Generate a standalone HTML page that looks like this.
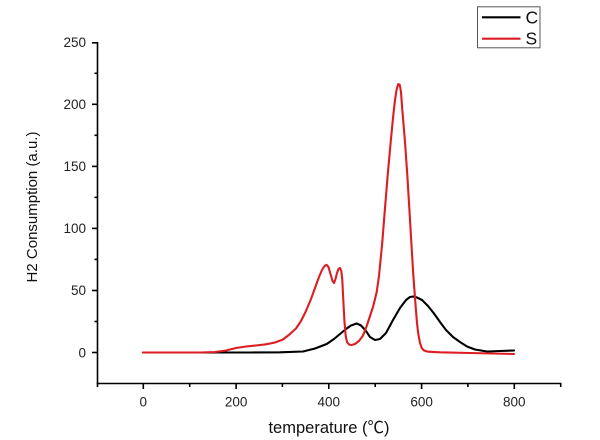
<!DOCTYPE html>
<html>
<head>
<meta charset="utf-8">
<style>
  html, body { margin: 0; padding: 0; background: #ffffff; }
  svg { display: block; }
  text { font-family: "Liberation Sans", "Noto Sans CJK SC", "DejaVu Sans", sans-serif; fill: #222; }
</style>
</head>
<body>
<svg width="600" height="440" viewBox="0 0 600 440" xmlns="http://www.w3.org/2000/svg">
  <rect x="0" y="0" width="600" height="440" fill="#ffffff"/>

  <!-- Axes -->
  <g stroke="#000" stroke-width="1.6" fill="none">
    <line x1="97.5" y1="42" x2="97.5" y2="384"/>
    <line x1="96.7" y1="383.5" x2="561.5" y2="383.5"/>
    <!-- y major ticks -->
    <line x1="92" y1="352.5" x2="97.5" y2="352.5"/>
    <line x1="92" y1="290.5" x2="97.5" y2="290.5"/>
    <line x1="92" y1="228.4" x2="97.5" y2="228.4"/>
    <line x1="92" y1="166.4" x2="97.5" y2="166.4"/>
    <line x1="92" y1="104.3" x2="97.5" y2="104.3"/>
    <line x1="92" y1="42.8" x2="97.5" y2="42.8"/>
    <!-- y minor ticks -->
    <line x1="94.5" y1="321.5" x2="97.5" y2="321.5"/>
    <line x1="94.5" y1="259.4" x2="97.5" y2="259.4"/>
    <line x1="94.5" y1="197.4" x2="97.5" y2="197.4"/>
    <line x1="94.5" y1="135.3" x2="97.5" y2="135.3"/>
    <line x1="94.5" y1="73.3" x2="97.5" y2="73.3"/>
    <!-- x major ticks -->
    <line x1="143.3" y1="383.5" x2="143.3" y2="389"/>
    <line x1="236.1" y1="383.5" x2="236.1" y2="389"/>
    <line x1="328.8" y1="383.5" x2="328.8" y2="389"/>
    <line x1="421.6" y1="383.5" x2="421.6" y2="389"/>
    <line x1="514.3" y1="383.5" x2="514.3" y2="389"/>
    <!-- x minor ticks -->
    <line x1="97.5" y1="383.5" x2="97.5" y2="387"/>
    <line x1="189.7" y1="383.5" x2="189.7" y2="387"/>
    <line x1="282.4" y1="383.5" x2="282.4" y2="387"/>
    <line x1="375.2" y1="383.5" x2="375.2" y2="387"/>
    <line x1="467.9" y1="383.5" x2="467.9" y2="387"/>
    <line x1="560.7" y1="383.5" x2="560.7" y2="387"/>
  </g>

  <!-- y tick labels -->
  <g font-size="13.5" text-anchor="end">
    <text x="86" y="357.3">0</text>
    <text x="86" y="295.2">50</text>
    <text x="86" y="233.1">100</text>
    <text x="86" y="171.1">150</text>
    <text x="86" y="109">200</text>
    <text x="86" y="47">250</text>
  </g>

  <!-- x tick labels -->
  <g font-size="13.5" text-anchor="middle">
    <text x="143.3" y="406.5">0</text>
    <text x="236.1" y="406.5">200</text>
    <text x="328.8" y="406.5">400</text>
    <text x="421.6" y="406.5">600</text>
    <text x="514.3" y="406.5">800</text>
  </g>

  <!-- axis titles -->
  <text x="329" y="433" font-size="16.5" text-anchor="middle" style="fill:#111">temperature (℃)</text>
  <text transform="translate(37,207) rotate(-90)" font-size="15" text-anchor="middle" style="fill:#111">H2 Consumption (a.u.)</text>

  <!-- Black series C -->
  <path fill="none" stroke="#000" stroke-width="2.1" stroke-linejoin="round" stroke-linecap="round" d="
    M143,352.5 L250,352.5 L280,352.3 L303,351.5 L315,348.5 L326.7,344 L334,339 L340,334 L346,329
    L351,325.5 L356.7,323.5 L361,325.5 L366,331 L370,337 L375,340 L380,339 L386,333 L393,320
    L400,308 L406,300 L410,297 L413.3,296.5 L417,297.5 L422,300 L428,306 L434,313.5 L440,322
    L446,330 L453,337 L460,342 L467,346.5 L475,349.5 L487,351.5 L500,351 L514,350.5"/>

  <!-- Red series S -->
  <path fill="none" stroke="#dc1e23" stroke-width="2.1" stroke-linejoin="round" stroke-linecap="round" d="
    M143,352.5 L200,352.5 L215,352 L226,350.5 L236,348 L246,346.5 L256,345.5 L266,344.3 L275,342.5
    L283,339.5 L290,334 L296,328.5 L301,321 L306,311 L311,299 L315,288 L319,277 L322,270
    L324.5,266 L326.5,264.8 L328.5,267 L330.5,274 L332.5,281 L334,283 L335.5,279 L337,273
    L338.5,269 L340,268 L341.3,271 L342.3,280 L343.3,300 L344.5,322 L345.7,336 L347,342
    L349,344.5 L351.5,345 L355,344 L359,341 L363,335.5 L366.7,326 L370,316 L373.3,306
    L376.7,292 L379,276 L382.3,242 L385,208 L387.7,175 L390.7,142 L393,118 L395,100
    L396.7,89 L398.3,84 L399.8,85 L401,92 L402,106 L403.5,124 L405,142 L407.3,175
    L409.3,208 L411.3,242 L413.3,275 L415.7,307 L417,323 L418.3,334 L420,343 L421.7,348
    L424,350.5 L428,351.7 L440,352.3 L470,353 L514,354"/>

  <!-- Legend -->
  <rect x="477.5" y="6.8" width="62.5" height="41" fill="#fff" stroke="#555" stroke-width="1"/>
  <line x1="482" y1="17.3" x2="520.5" y2="17.3" stroke="#000" stroke-width="2.2"/>
  <line x1="482" y1="38.7" x2="520.5" y2="38.7" stroke="#dc1e23" stroke-width="2.2"/>
  <text x="525.5" y="23.5" font-size="17.5" style="fill:#111">C</text>
  <text x="525.5" y="44.5" font-size="17.5" style="fill:#111">S</text>
</svg>
</body>
</html>
